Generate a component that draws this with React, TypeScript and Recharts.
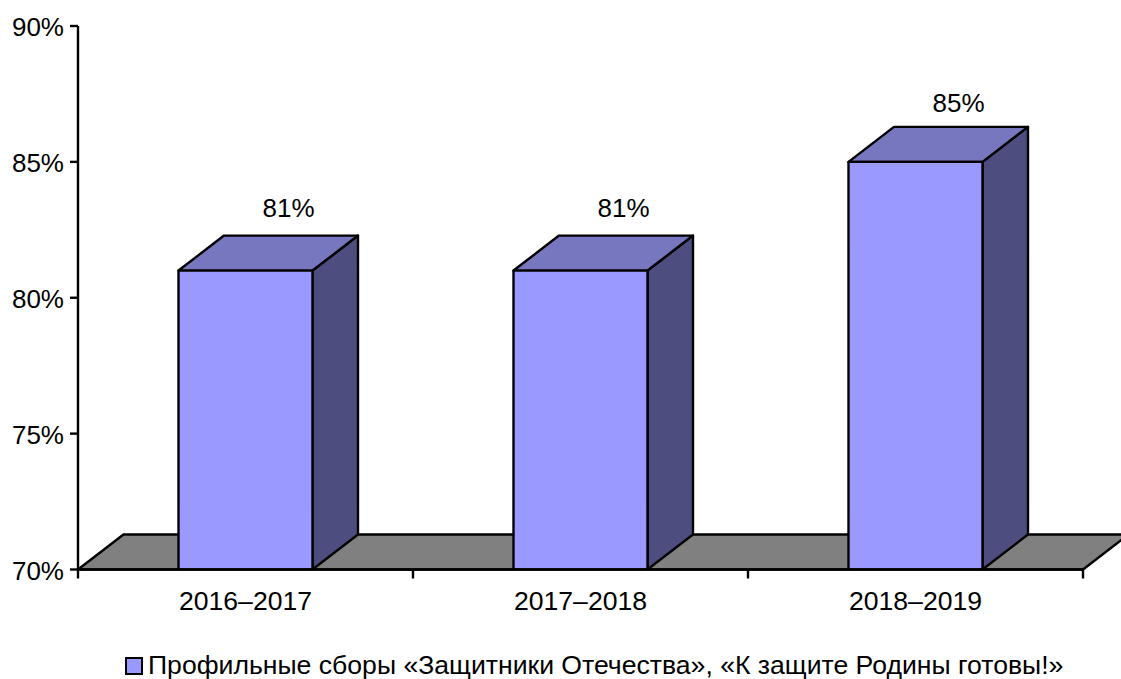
import React from "react";
import {
  BarChart,
  Bar,
  XAxis,
  YAxis,
  LabelList,
  Legend,
  ReferenceArea,
} from "recharts";

const categories = ["2016–2017", "2017–2018", "2018–2019"];
const values = [81, 81, 85];
const yTicks = [70, 75, 80, 85, 90];
const seriesName = "Профильные сборы «Защитники Отечества», «К защите Родины готовы!»";

const chartData = categories.map((period, i) => ({ period, value: values[i] }));

const FONT = "'Liberation Sans', Arial, sans-serif";
const FONT_SIZE = 26.6;
const SMALL_FONT_SIZE = 26;
const DEPTH_X = 45.5;
const DEPTH_Y = 35;
const BAND = 335;
const LINE = { stroke: "#000", strokeWidth: 2.4 };

// front face + top + side, the old Excel "3D" look
function Box3D({ x, y, width, height }: any) {
  const right = x + width;
  const bottom = y + height;
  return (
    <g {...LINE} strokeLinejoin="round">
      <polygon
        points={`${right},${y} ${right + DEPTH_X},${y - DEPTH_Y} ${right + DEPTH_X},${bottom - DEPTH_Y} ${right},${bottom}`}
        fill="#4D4D80"
      />
      <polygon
        points={`${x},${y} ${x + DEPTH_X},${y - DEPTH_Y} ${right + DEPTH_X},${y - DEPTH_Y} ${right},${y}`}
        fill="#7777BF"
      />
      <rect x={x} y={y} width={width} height={height} fill="#9999FF" />
    </g>
  );
}

function Floor({ x, y, width, height }: any) {
  const bottom = y + height;
  return (
    <polygon
      points={`${x},${bottom} ${x + DEPTH_X},${bottom - DEPTH_Y} ${x + width + DEPTH_X},${bottom - DEPTH_Y} ${x + width},${bottom}`}
      fill="#808080"
      {...LINE}
      strokeLinejoin="round"
    />
  );
}

// ticks sit between categories, labels in the middle of the band
function CategoryTick({ x, y, payload, index }: any) {
  const left = x - BAND / 2;
  return (
    <g>
      <line x1={left} x2={left} y1={y} y2={y + 9} {...LINE} />
      {index === categories.length - 1 && (
        <line x1={left + BAND} x2={left + BAND} y1={y} y2={y + 9} {...LINE} />
      )}
      <text x={x} y={y + 40} textAnchor="middle" fontSize={FONT_SIZE} fontFamily={FONT} fill="#000">
        {payload.value}
      </text>
    </g>
  );
}

function BarValue({ x, y, width, value }: any) {
  // the taller bar's label sits a little closer to the box in the original
  const gap = value >= 85 ? 50 : 53.6;
  return (
    <text
      x={x + width / 2 + 43}
      y={y - gap}
      textAnchor="middle"
      fontSize={SMALL_FONT_SIZE}
      fontFamily={FONT}
      fill="#000"
    >
      {value}%
    </text>
  );
}

function LegendRow({ payload }: any) {
  const item = payload?.[0];
  if (!item) return null;
  return (
    <div
      style={{
        display: "flex",
        alignItems: "center",
        fontFamily: FONT,
        fontSize: FONT_SIZE,
        color: "#000",
        whiteSpace: "nowrap",
      }}
    >
      <span
        style={{
          width: 14,
          height: 14,
          background: item.color,
          border: "2px solid #000",
          marginRight: 5,
          display: "inline-block",
        }}
      />
      {item.value}
    </div>
  );
}

export default function App() {
  return (
    <div style={{ position: "absolute", left: 0, top: 0, width: 1121, height: 679, background: "#fff" }}>
      <BarChart
        width={1121}
        height={679}
        data={chartData}
        margin={{ top: 26, right: 38, bottom: 39.5, left: 0 }}
        barCategoryGap="30%"
        style={{ overflow: "hidden" }}
      >
        <ReferenceArea y1={70} y2={70} ifOverflow="visible" shape={<Floor />} />
        <XAxis
          dataKey="period"
          height={40}
          interval={0}
          tickLine={false}
          tickSize={0}
          tickMargin={0}
          axisLine={LINE}
          tick={<CategoryTick />}
        />
        <YAxis
          width={78}
          domain={[70, 90]}
          ticks={yTicks}
          interval={0}
          allowDataOverflow
          tickSize={8}
          tickMargin={6}
          axisLine={LINE}
          tickLine={LINE}
          tickFormatter={(v: number) => `${v}%`}
          tick={{ fontSize: SMALL_FONT_SIZE, fontFamily: FONT, fill: "#000", dy: 1 }}
        />
        <Bar
          dataKey="value"
          name={seriesName}
          fill="#9999FF"
          isAnimationActive={false}
          shape={<Box3D />}
        >
          <LabelList dataKey="value" content={<BarValue />} />
        </Bar>
        <Legend
          height={30}
          verticalAlign="bottom"
          content={<LegendRow />}
          wrapperStyle={{ left: 125, top: 650, width: 996 }}
        />
      </BarChart>
    </div>
  );
}
